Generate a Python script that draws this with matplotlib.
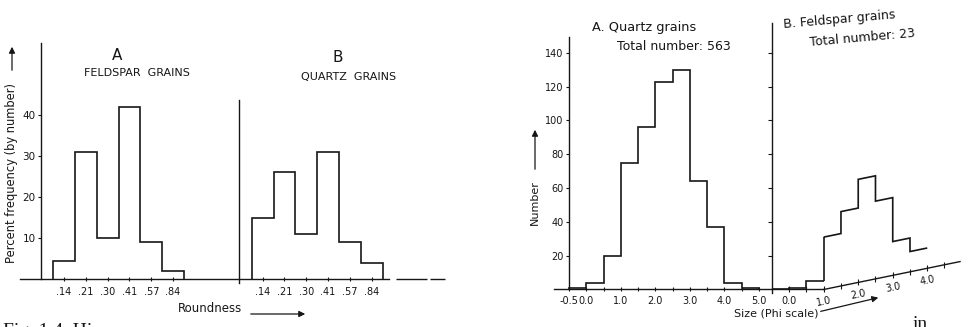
import matplotlib
matplotlib.use("Agg")
import matplotlib.pyplot as plt
import matplotlib.transforms as mtransforms
import numpy as np

plt.rcParams['font.family'] = 'DejaVu Sans'

#----------------- DATA -----------------#

# roundness classes (class midpoints), percent frequency by number
roundness_labels = ['.14', '.21', '.30', '.41', '.57', '.84']
feldspar_round = [4.5, 31, 10, 42, 9, 2]
quartz_round = [15, 26, 11, 31, 9, 4]
percent_ticks = [10, 20, 30, 40]

# grain size, half-phi classes, counts
quartz_edges = [-0.5, 0.0, 0.5, 1.0, 1.5, 2.0, 2.5, 3.0, 3.5, 4.0, 4.5, 5.0]
quartz_size = [1, 4, 20, 75, 96, 123, 130, 64, 37, 4, 1]
feldspar_edges = [-0.5, 0.0, 0.5, 1.0, 1.5, 2.0, 2.5, 3.0, 3.5, 4.0]
feldspar_size = [0, 1, 5, 31, 44, 61, 46, 20, 12]
size_ticks = [-0.5, 0.0, 1.0, 2.0, 3.0, 4.0, 5.0]
feldspar_ticks = [0.0, 1.0, 2.0, 3.0, 4.0]
feldspar_minor = [0.0, 0.5, 1.0, 1.5, 2.0, 2.5, 3.0, 3.5, 4.0, 4.5]
number_ticks = [20, 40, 60, 80, 100, 120, 140]

#----------------- FIGURE -----------------#

W, H = 969, 327
INK = '#161616'
LW = 1.2

fig = plt.figure(figsize=(W / 100, H / 100), dpi=100)


def fx(x):
    return x / W


def fy(y):
    return 1 - y / H


def arrow(x0, y0, x1, y1):
    fig.add_artist(matplotlib.patches.FancyArrowPatch(
        (fx(x0), fy(y0)), (fx(x1), fy(y1)), transform=fig.transFigure,
        arrowstyle='-|>', mutation_scale=9, color=INK, lw=0.9))


#----------------- ROUNDNESS -----------------#

ax1 = fig.add_axes([0, 0, 480 / W, 1])
ax1.patch.set_alpha(0)
b_off = 9.1
idx = np.arange(len(roundness_labels))
edges = np.arange(len(roundness_labels) + 1) - 0.5

ax1.stairs(feldspar_round, edges, color=INK, lw=LW)
ax1.stairs(quartz_round, edges + b_off, color=INK, lw=LW)

for s in ['top', 'right']:
    ax1.spines[s].set_visible(False)
ax1.spines['left'].set_position(('data', -1.05))
ax1.spines['left'].set_bounds(0, 57.6)
ax1.spines['bottom'].set_position(('data', 0))
ax1.spines['bottom'].set_bounds(-2.0, 14.9)
for s in ['left', 'bottom']:
    ax1.spines[s].set_color(INK)
    ax1.spines[s].set_linewidth(1.0)

ax1.set_yticks(percent_ticks)
ax1.set_xticks(list(idx) + list(idx + b_off), roundness_labels * 2)
ax1.tick_params(axis='x', direction='inout', length=3, width=0.8,
                labelsize=7, pad=4, colors=INK)
ax1.tick_params(axis='y', direction='out', length=2, width=0.8,
                labelsize=7.5, pad=2, colors=INK)

# separating axis for panel B and the broken baseline after it
ax1.plot([8.0, 8.0], [-1, 43.7], color=INK, lw=1.0)
ax1.hlines([0, 0], [15.2, 16.77], [16.63, 17.46], color=INK, lw=1.0)

ax1.set_xlim(-2.93, 19.06)
ax1.set_ylim(-11.7, 68.05)

fig.text(fx(117), fy(55), 'A', ha='center', va='center', fontsize=11, color=INK)
fig.text(fx(137), fy(73), 'FELDSPAR  GRAINS', ha='center', va='center',
         fontsize=8, color=INK)
fig.text(fx(338), fy(57), 'B', ha='center', va='center', fontsize=11, color=INK)
fig.text(fx(349), fy(77), 'QUARTZ  GRAINS', ha='center', va='center',
         fontsize=8, color=INK)
fig.text(fx(12), fy(173), 'Percent frequency (by number)', rotation=90,
         ha='center', va='center', fontsize=8.3, color=INK)
arrow(12, 73, 12, 44)
fig.text(fx(210), fy(309), 'Roundness', ha='center', va='center',
         fontsize=8.5, color=INK)
arrow(248, 314, 308, 314)

#----------------- GRAIN SIZE -----------------#

ax2 = fig.add_axes([480 / W, 0, 489 / W, 1])
ax2.patch.set_alpha(0)

ax2.stairs(quartz_size, quartz_edges, color=INK, lw=LW)

for s in ['top', 'right']:
    ax2.spines[s].set_visible(False)
ax2.spines['left'].set_position(('data', -0.5))
ax2.spines['left'].set_bounds(0, 149.4)
ax2.spines['bottom'].set_position(('data', 0))
ax2.spines['bottom'].set_bounds(-0.93, 5.38)
for s in ['left', 'bottom']:
    ax2.spines[s].set_color(INK)
    ax2.spines[s].set_linewidth(1.0)

ax2.set_yticks(number_ticks)
ax2.set_xticks(size_ticks, [f'{t:.1f}' for t in size_ticks])
ax2.set_xticks(quartz_edges, minor=True)
ax2.tick_params(axis='x', which='both', direction='inout', length=3,
                width=0.8, labelsize=7, pad=3, colors=INK)
ax2.tick_params(axis='y', direction='out', length=2, width=0.8,
                labelsize=7, pad=2, colors=INK)

# feldspar panel: the page bends at phi 1.0, so that part is sheared upward
f_off = 5.88
fold = 1.0 + f_off
slope = 4.18
shear = mtransforms.Affine2D.from_values(1, slope, 0, 1, 0, -slope * fold) + ax2.transData

fe = np.array(feldspar_edges) + f_off
k = feldspar_edges.index(1.0)
ax2.stairs(feldspar_size[:k], fe[:k + 1], baseline=None, color=INK, lw=LW)
ax2.stairs(feldspar_size[k:], fe[k:], baseline=None, color=INK, lw=LW,
           transform=shear)
ax2.vlines(fold, feldspar_size[k - 1], feldspar_size[k], color=INK, lw=LW)

ax2.plot([f_off - 0.5, f_off - 0.5], [-2, 157.7], color=INK, lw=1.0)
ax2.plot([f_off - 0.5] * len(number_ticks), number_ticks, ls='none',
         marker=0, ms=3, mew=0.8, color=INK)
ax2.plot([f_off - 0.5, fold], [0, 0], color=INK, lw=1.0)
ax2.plot([fold, 10.83], [0, 0], color=INK, lw=1.0, transform=shear)

for t in feldspar_minor:
    tr = shear if t >= 1.0 else ax2.transData
    ax2.plot([t + f_off], [0], ls='none', marker='|', ms=4, mew=0.8,
             color=INK, transform=tr)
for t in feldspar_ticks:
    tr = shear if t >= 1.0 else ax2.transData
    rot = 11.6 if t >= 1.0 else 0
    ax2.text(t + f_off, -7, f'{t:.1f}', transform=tr, rotation=rot,
             rotation_mode='anchor', ha='center', va='center', fontsize=7,
             color=INK)

ax2.set_xlim(-3.08, 11.09)
ax2.set_ylim(-22.2, 171.3)

fig.text(fx(592), fy(27), 'A. Quartz grains', ha='left', va='center',
         fontsize=9.3, color=INK)
fig.text(fx(617), fy(46), 'Total number: 563', ha='left', va='center',
         fontsize=9, color=INK)
fig.text(fx(783), fy(25), 'B. Feldspar grains', ha='left', va='center',
         rotation=5, rotation_mode='anchor', fontsize=9, color=INK)
fig.text(fx(810), fy(43), 'Total number: 23', ha='left', va='center',
         rotation=5, rotation_mode='anchor', fontsize=9, color=INK)
fig.text(fx(535), fy(203), 'Number', rotation=90, ha='center', va='center',
         fontsize=8, color=INK)
arrow(535, 172, 535, 127)
fig.text(fx(776), fy(313), 'Size (Phi scale)', ha='center', va='center',
         fontsize=8, color=INK)
arrow(818, 312, 881, 297)

# caption line running off the bottom of the page
fig.text(fx(3), fy(336), 'Fig. 1.4. Hi', ha='left', va='baseline',
         fontsize=14, family='Liberation Serif', color=INK)
fig.text(fx(913), fy(329), 'in', ha='left', va='baseline',
         fontsize=14, family='Liberation Serif', color=INK)

fig.savefig('out.png', dpi=100)
